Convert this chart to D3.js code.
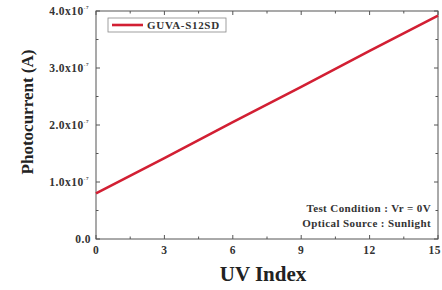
<!DOCTYPE html>
<html lang="en">
<head>
    <meta charset="UTF-8">
    <title>Photocurrent vs UV Index</title>
    <script src="https://d3js.org/d3.v7.min.js"></script>
    <style>
        body { margin: 0; background: #fff; }
        svg { font-family: "Liberation Serif", "Times New Roman", serif; font-weight: bold; }
        .tick-label { font-size: 11.5px; fill: #333; letter-spacing: 0.5px; }
        .axis-title { fill: #222; }
        .note { font-size: 11px; fill: #333; letter-spacing: 0.4px; }
    </style>
</head>
<body>
    <svg width="442" height="290"></svg>
    <script>
        // data
        const uvIndex = [0, 3, 6, 9, 12, 15];
        const photocurrent = [0.80e-7, 1.42e-7, 2.05e-7, 2.67e-7, 3.30e-7, 3.92e-7];
        const xTicks = [0, 3, 6, 9, 12, 15];
        const yTicks = [0, 1e-7, 2e-7, 3e-7, 4e-7];
        const yTickLabels = ["0.0", "1.0x10", "2.0x10", "3.0x10", "4.0x10"];
        const seriesName = "GUVA-S12SD";

        const margin = { top: 11, right: 4, bottom: 51, left: 96 };
        const width = 442 - margin.left - margin.right;
        const height = 290 - margin.top - margin.bottom;

        const svg = d3.select("svg")
            .append("g")
            .attr("transform", `translate(${margin.left},${margin.top})`);

        const x = d3.scaleLinear().domain([0, 15]).range([0, width]);
        const y = d3.scaleLinear().domain([0, 4e-7]).range([height, 0]);

        const minorX = d3.range(0, 15.01, 1.5);
        const minorY = d3.range(0, 4.01e-7, 0.5e-7);

        // frame
        svg.append("rect")
            .attr("width", width).attr("height", height)
            .attr("fill", "none").attr("stroke", "#555").attr("stroke-width", 1);

        // ticks (inward, all four sides)
        const tk = svg.append("g").attr("stroke", "#555").attr("stroke-width", 1);
        minorX.forEach((v, i) => {
            const len = i % 2 === 0 ? 4 : 2.5;
            tk.append("line").attr("x1", x(v)).attr("x2", x(v)).attr("y1", height).attr("y2", height - len);
            tk.append("line").attr("x1", x(v)).attr("x2", x(v)).attr("y1", 0).attr("y2", len);
        });
        minorY.forEach((v, i) => {
            const len = i % 2 === 0 ? 4 : 2.5;
            tk.append("line").attr("x1", 0).attr("x2", len).attr("y1", y(v)).attr("y2", y(v));
            tk.append("line").attr("x1", width).attr("x2", width - len).attr("y1", y(v)).attr("y2", y(v));
        });

        // x tick labels (last one kept inside the window)
        svg.selectAll(".xl").data(xTicks).enter()
            .append("text")
            .attr("class", "tick-label")
            .attr("x", (d, i) => i === xTicks.length - 1 ? width + margin.right - 1 : x(d))
            .attr("y", height + 15)
            .attr("text-anchor", (d, i) => i === xTicks.length - 1 ? "end" : "middle")
            .text(d => d);

        // y tick labels
        yTicks.forEach((v, i) => {
            const t = svg.append("text")
                .attr("class", "tick-label")
                .attr("y", y(v) + 4)
                .attr("text-anchor", "end");
            if (i === 0) {
                t.attr("x", -5).text(yTickLabels[i]);
            } else {
                t.attr("x", -7);
                t.append("tspan").text(yTickLabels[i]);
                t.append("tspan").attr("font-size", "5px").attr("dy", -6).text("-7");
            }
        });

        // line
        const line = d3.line().x((d, i) => x(uvIndex[i])).y(d => y(d));
        svg.append("path")
            .datum(photocurrent)
            .attr("d", line)
            .attr("fill", "none")
            .attr("stroke", "#d21f33")
            .attr("stroke-width", 2.6);

        // legend
        const lg = svg.append("g").attr("transform", "translate(12,7)");
        lg.append("rect").attr("width", 118).attr("height", 14)
            .attr("fill", "#fff").attr("stroke", "#888").attr("stroke-width", 0.8);
        lg.append("line").attr("x1", 4).attr("x2", 35).attr("y1", 7).attr("y2", 7)
            .attr("stroke", "#d21f33").attr("stroke-width", 2.6);
        lg.append("text").attr("x", 39).attr("y", 11)
            .attr("font-size", "11px").attr("letter-spacing", "0.7px")
            .attr("fill", "#333").text(seriesName);

        // notes
        svg.append("text").attr("class", "note")
            .attr("x", width - 7).attr("y", 201)
            .attr("text-anchor", "end").text("Test Condition : Vr = 0V");
        svg.append("text").attr("class", "note")
            .attr("x", width - 7).attr("y", 216)
            .attr("text-anchor", "end").text("Optical Source : Sunlight");

        // axis titles
        svg.append("text")
            .attr("class", "axis-title")
            .attr("x", width / 2 - 4)
            .attr("y", height + 42)
            .attr("text-anchor", "middle")
            .attr("font-size", "21px")
            .text("UV Index");

        svg.append("text")
            .attr("class", "axis-title")
            .attr("transform", "rotate(-90)")
            .attr("x", -height / 2 + 13)
            .attr("y", -margin.left + 33)
            .attr("text-anchor", "middle")
            .attr("font-size", "17px")
            .text("Photocurrent (A)");
    </script>
</body>
</html>
